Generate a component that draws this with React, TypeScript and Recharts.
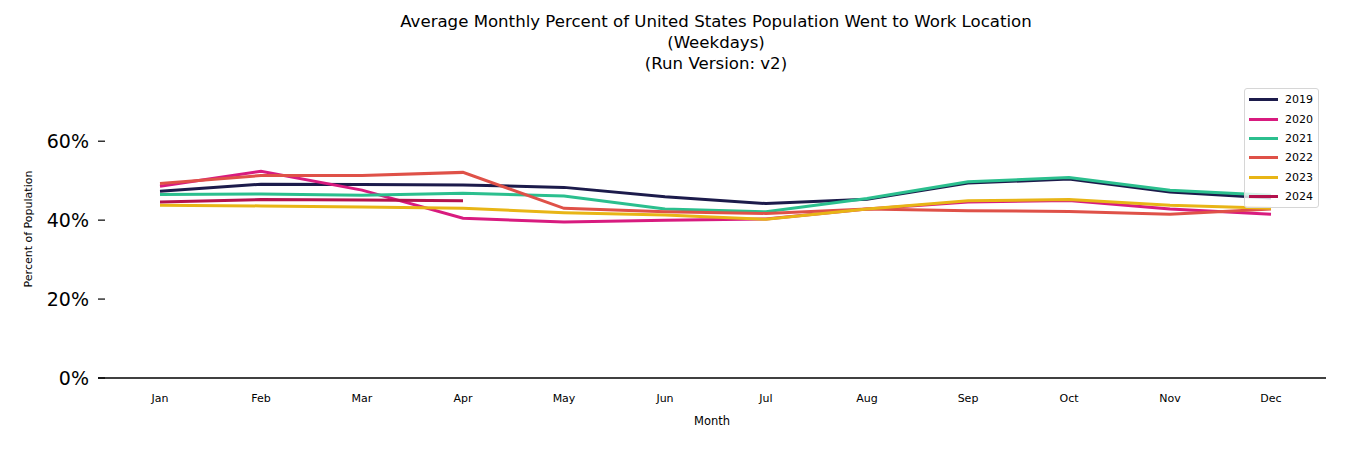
import { LineChart, Line, XAxis, YAxis } from "recharts";

const months = ["Jan", "Feb", "Mar", "Apr", "May", "Jun", "Jul", "Aug", "Sep", "Oct", "Nov", "Dec"];

const y2019 = [0.473, 0.491, 0.490, 0.489, 0.483, 0.459, 0.442, 0.453, 0.494, 0.504, 0.471, 0.456];
const y2020 = [0.486, 0.524, 0.476, 0.405, 0.395, 0.400, 0.403, 0.428, 0.446, 0.450, 0.428, 0.415];
const y2021 = [0.465, 0.466, 0.463, 0.468, 0.461, 0.428, 0.421, 0.455, 0.497, 0.508, 0.476, 0.463];
const y2022 = [0.493, 0.513, 0.513, 0.521, 0.430, 0.421, 0.417, 0.428, 0.424, 0.422, 0.415, 0.428];
const y2023 = [0.438, 0.436, 0.433, 0.430, 0.419, 0.413, 0.402, 0.428, 0.449, 0.452, 0.438, 0.430];
const y2024 = [0.446, 0.452, 0.451, 0.449];

const yTicks = [0, 0.2, 0.4, 0.6];

const series = [
  { key: "2019", values: y2019, color: "#1c1b4b" },
  { key: "2020", values: y2020, color: "#d81b7f" },
  { key: "2021", values: y2021, color: "#2bbf8e" },
  { key: "2022", values: y2022, color: "#df5148" },
  { key: "2023", values: y2023, color: "#e8b516" },
  { key: "2024", values: y2024, color: "#b3124d" },
];

const data = months.map((m, i) => {
  const row: Record<string, string | number | null> = { month: m };
  series.forEach((s) => {
    row[s.key] = i < s.values.length ? s.values[i] : null;
  });
  return row;
});

const FONT = "'DejaVu Sans', sans-serif";

function YTick(props: any) {
  const { x, y, payload } = props;
  return (
    <g>
      <line x1={x} x2={x + 7} y1={y} y2={y} stroke="#000" strokeWidth={1.2} />
      <text x={x - 9} y={y} dy={7} textAnchor="end" fontSize={19} fontFamily={FONT} fill="#000">
        {`${Math.round(payload.value * 100)}%`}
      </text>
    </g>
  );
}

function LegendBox() {
  return (
    <div
      style={{
        position: "absolute",
        left: 1244,
        top: 88,
        width: 64,
        border: "1px solid #d6d6d6",
        borderRadius: 3,
        background: "rgba(255,255,255,0.8)",
        padding: "1px 5px 1px 4px",
        fontFamily: FONT,
        fontSize: 11,
        color: "#000",
        zIndex: 2,
      }}
    >
      {series.map((s) => (
        <div key={s.key} style={{ display: "flex", alignItems: "center", height: 19.4 }}>
          <span style={{ display: "inline-block", width: 29, height: 3, background: s.color, marginRight: 7 }} />
          <span>{s.key}</span>
        </div>
      ))}
    </div>
  );
}

export default function App() {
  return (
    <div style={{ position: "absolute", left: 0, top: 0, width: 1350, height: 450, background: "#fff" }}>
      <div
        style={{
          position: "absolute",
          left: 98,
          width: 1236,
          top: 11,
          textAlign: "center",
          fontFamily: FONT,
          fontSize: 16.6,
          lineHeight: "21px",
          color: "#000",
        }}
      >
        Average Monthly Percent of United States Population Went to Work Location
        <br />
        (Weekdays)
        <br />
        (Run Version: v2)
      </div>
      <svg style={{ position: "absolute", left: 0, top: 0 }} width={60} height={450}>
        <text
          x={32}
          y={229}
          transform="rotate(-90 32 229)"
          textAnchor="middle"
          fontSize={11}
          fontFamily={FONT}
          fill="#000"
        >
          Percent of Population
        </text>
      </svg>
      <LineChart width={1350} height={450} data={data} margin={{ top: 82, right: 24, bottom: 0, left: 0 }}>
        <XAxis
          dataKey="month"
          padding={{ left: 62, right: 55 }}
          tickLine={false}
          axisLine={{ stroke: "#000", strokeWidth: 1.5 }}
          tick={{ fontSize: 11, fontFamily: FONT, fill: "#000" }}
          tickMargin={10}
          height={72}
          label={{ value: "Month", position: "insideBottom", offset: 25, fontSize: 11.5, fontFamily: FONT, fill: "#000" }}
        />
        <YAxis
          domain={[0, 0.75]}
          ticks={yTicks}
          width={98}
          axisLine={false}
          tickLine={false}
          tickSize={0}
          tickMargin={0}
          tick={<YTick />}
        />
        {series.map((s) => (
          <Line
            key={s.key}
            dataKey={s.key}
            name={s.key}
            stroke={s.color}
            strokeWidth={3}
            dot={false}
            activeDot={false}
            isAnimationActive={false}
            connectNulls={false}
          />
        ))}
      </LineChart>
      <LegendBox />
    </div>
  );
}
